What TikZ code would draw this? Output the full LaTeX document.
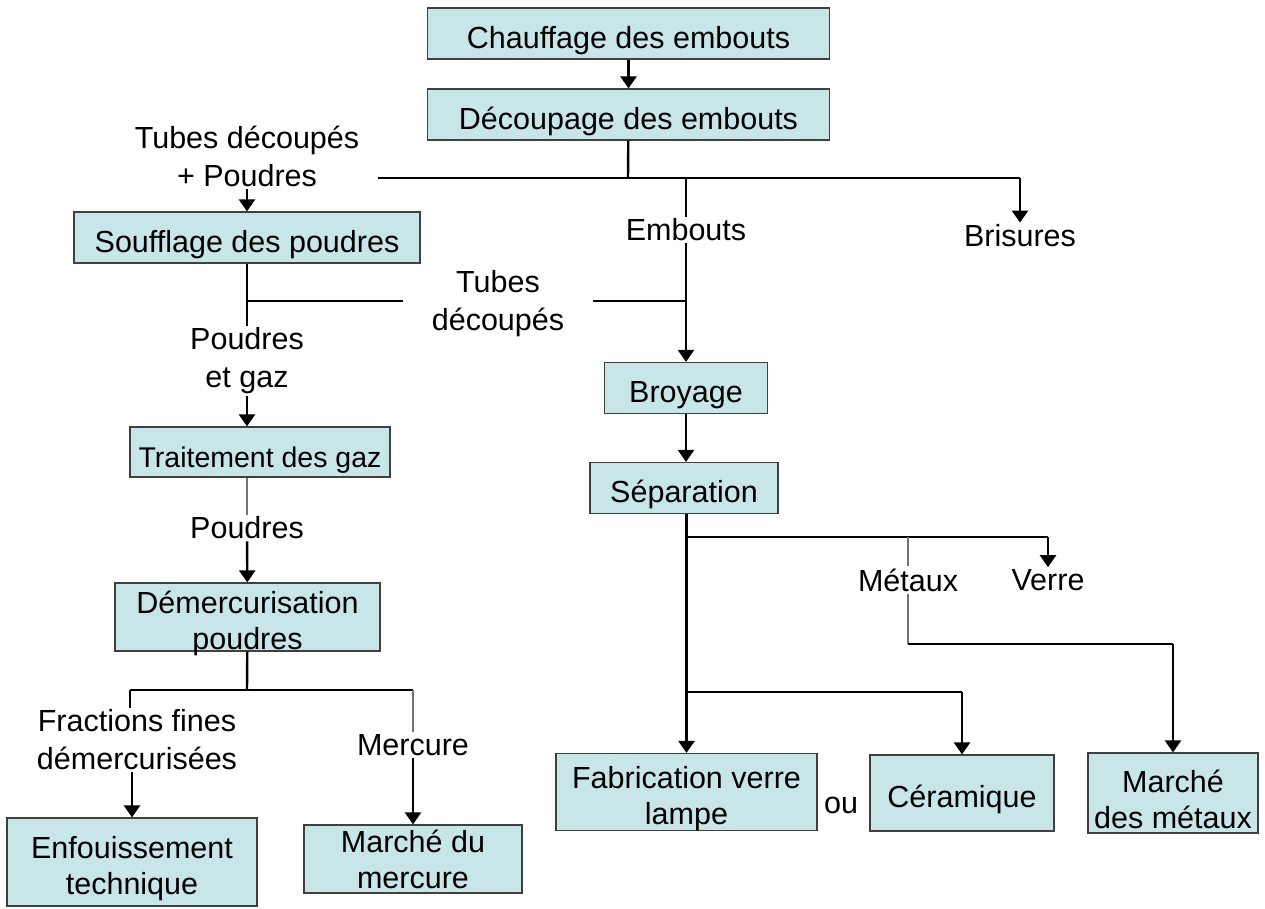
\documentclass[tikz,border=0pt]{standalone}
\usepackage{fontspec}
\setmainfont{Liberation Sans}
\usetikzlibrary{arrows.meta}

\definecolor{boxfill}{RGB}{200,230,232}
\newcommand*{\lowline}{\rule{0pt}{36pt}}

\begin{document}
\begin{tikzpicture}
[
	x=1pt,y=-1pt,
	stepbox/.style={draw=black!75,fill=boxfill,line width=1.2pt,inner xsep=0pt,inner ysep=-12pt,align=center,font=\fontsize{30.5}{36}\selectfont},
	lbl/.style={inner sep=2pt,align=center,font=\fontsize{30.5}{38}\selectfont},
	flow/.style={line width=2.4pt,black},
	faint/.style={line width=2.2pt,black!55},
	arr/.style={-{Triangle[width=16pt,length=12pt]}}
]

	\useasboundingbox (0,0) rectangle (1265,908);

	% process boxes
	\node[stepbox,minimum width=402pt,minimum height=51pt] (chauffe) at (628.5,33.5) {\lowline Chauffage des embouts};
	\node[stepbox,minimum width=402pt,minimum height=51pt] (decoupe) at (628.5,114.5) {\lowline Découpage des embouts};
	\node[stepbox,minimum width=346pt,minimum height=51pt] (souffle) at (247,237.5) {\lowline Soufflage des poudres};
	\node[stepbox,minimum width=260pt,minimum height=50pt,font=\fontsize{28.5}{35}\selectfont] (traite) at (260,452) {\lowline Traitement des gaz};
	\node[stepbox,minimum width=265pt,minimum height=68pt] (demerc) at (247.5,617) {\lowline Démercurisation\\poudres};
	\node[stepbox,minimum width=250pt,minimum height=88pt] (enfouis) at (132,862) {\lowline Enfouissement\\technique};
	\node[stepbox,minimum width=218pt,minimum height=68pt] (mmerc) at (413,859) {Marché du\\mercure};
	\node[stepbox,minimum width=163pt,minimum height=51pt] (broyage) at (686,388) {\lowline Broyage};
	\node[stepbox,minimum width=188pt,minimum height=51pt] (separ) at (684,488) {\lowline Séparation};
	\node[stepbox,minimum width=261pt,minimum height=77pt] (fabric) at (686.5,792) {\lowline Fabrication verre\\lampe};
	\node[stepbox,minimum width=184pt,minimum height=76pt] (ceram) at (962,793) {\lowline Céramique};
	\node[stepbox,minimum width=170pt,minimum height=80pt] (mmetal) at (1173,793) {\lowline Marché\\des métaux};

	% flow labels
	\node[lbl] (ltubpou) at (247,156) {Tubes découpés\\+ Poudres};
	\node[lbl] (lembouts) at (686,230) {Embouts};
	\node[lbl] (lbris) at (1020,236) {Brisures};
	\node[lbl] (ltubes) at (498,304) {Tubes\\découpés};
	\node[lbl] (lpougaz) at (247,361) {Poudres\\et gaz};
	\node[lbl] (lpoudres) at (247,528) {Poudres};
	\node[lbl] (lfract) at (137,740) {Fractions fines\\démercurisées};
	\node[lbl] (lmerc) at (413,745) {Mercure};
	\node[lbl] (lmetaux) at (908,580) {Métaux};
	\node[lbl] (lverre) at (1048,580) {Verre};
	\node[lbl] (lou) at (841,805) {ou};

	% junctions
	\coordinate (jcut) at (628,178);
	\coordinate (jleft) at (378,178);
	\coordinate (jbris) at (1020,178);
	\coordinate (jemb) at (686,178);
	\coordinate (jsouf) at (247,301);
	\coordinate (tubL) at (403,301);
	\coordinate (tubR) at (593,301);
	\coordinate (jemb2) at (686,301);
	\coordinate (jdem) at (247,690);
	\coordinate (jfract) at (130,690);
	\coordinate (jmerc) at (413,690);
	\coordinate (jsep) at (686,537);
	\coordinate (jmet) at (908,537);
	\coordinate (jverre) at (1048,537);
	\coordinate (jmet2) at (908,644);
	\coordinate (jmm) at (1173,644);
	\coordinate (jcer0) at (686,692);
	\coordinate (jcer) at (962,692);

	% cutting
	\draw[flow,arr] (chauffe) -- (decoupe);
	\draw[flow] (decoupe) -- (jcut);
	\draw[flow] (jleft) -- (jbris);
	\draw[flow,arr] (jbris) -- (lbris);
	\draw[flow,arr] (ltubpou) -- (souffle);
	\draw[flow] (jemb) -- (lembouts);
	\draw[flow,arr] (lembouts) -- (broyage);

	% powder line
	\draw[flow] (souffle) -- (lpougaz);
	\draw[flow] (jsouf) -- (tubL);
	\draw[flow] (tubR) -- (jemb2);
	\draw[flow,arr] (lpougaz) -- (lpougaz |- traite.north);
	\draw[faint] (traite.south -| lpoudres) -- (lpoudres);
	\draw[flow,arr] (lpoudres) -- (demerc);

	% demercurisation outputs
	\draw[flow] (demerc) -- (jdem);
	\draw[flow] (jfract) -- (jmerc);
	\draw[flow] (jfract) -- (jfract |- lfract.north);
	\draw[flow,arr] (lfract.south -| enfouis) -- (enfouis);
	\draw[faint] (jmerc) -- (lmerc);
	\draw[flow,arr] (lmerc) -- (mmerc);

	% grinding and separation
	\draw[flow,arr] (broyage) -- (broyage |- separ.north);
	\draw[flow,arr] (separ.south -| fabric) -- (fabric);
	\draw[flow] (jsep) -- (jverre);
	\draw[flow,arr] (jverre) -- (lverre);
	\draw[faint] (jmet) -- (lmetaux);
	\draw[faint] (lmetaux) -- (jmet2);
	\draw[flow] (jmet2) -- (jmm);
	\draw[flow,arr] (jmm) -- (mmetal);
	\draw[flow] (jcer0) -- (jcer);
	\draw[flow,arr] (jcer) -- (ceram);

\end{tikzpicture}
\end{document}
